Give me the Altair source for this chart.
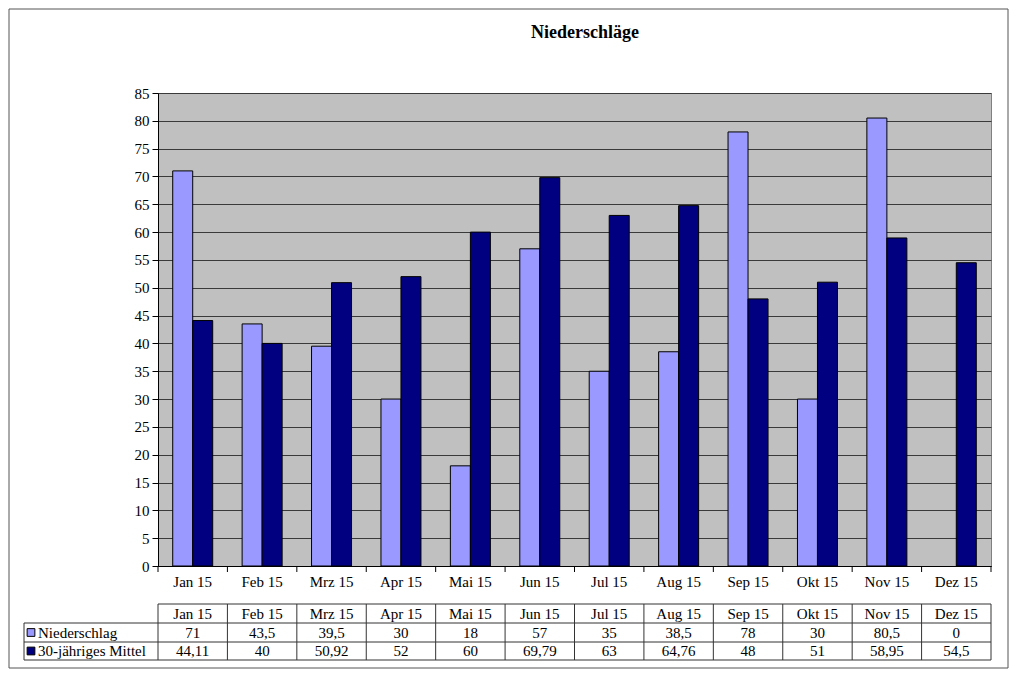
import altair as alt
import pandas as pd

months = ["Jan 15", "Feb 15", "Mrz 15", "Apr 15", "Mai 15", "Jun 15",
          "Jul 15", "Aug 15", "Sep 15", "Okt 15", "Nov 15", "Dez 15"]
niederschlag = [71, 43.5, 39.5, 30, 18, 57, 35, 38.5, 78, 30, 80.5, 0]
mittel = [44.11, 40, 50.92, 52, 60, 69.79, 63, 64.76, 48, 51, 58.95, 54.5]
series = ["Niederschlag", "30-jähriges Mittel"]
colors = ["#9999FF", "#000080"]
y_ticks = list(range(0, 90, 5))
title_text = "Niederschläge"

W, H = 833, 473
FONT = "Liberation Serif"
FS = 15


def fmt(v):
    return f"{v:g}".replace(".", ",")


rows = []
for m, a, b in zip(months, niederschlag, mittel):
    rows.append({"month": m, "series": series[0], "value": a, "label": fmt(a)})
    rows.append({"month": m, "series": series[1], "value": b, "label": fmt(b)})
df = pd.DataFrame(rows)
mdf = pd.DataFrame({"month": months})
one = pd.DataFrame({"t": [title_text]})

xscale = alt.Scale(domain=months, paddingInner=0, paddingOuter=0)
xenc = alt.X("month:N", scale=xscale, sort=months,
             axis=alt.Axis(title=None, ticks=False, labelAngle=0, labelFont=FONT,
                           labelFontSize=FS, labelColor="black", labelPadding=8,
                           domainColor="black"))

# outer border
border = alt.Chart(one).mark_rect(fillOpacity=0, stroke="#555555", strokeWidth=1).encode(
    x=alt.value(-149), x2=alt.value(850), y=alt.value(-84), y2=alt.value(575))

title = alt.Chart(one).mark_text(fontSize=18, fontWeight="bold", font=FONT,
                                 color="black", baseline="middle").encode(
    text="t:N", x=alt.value(427), y=alt.value(-60))

bars = alt.Chart(df).transform_filter("datum.value > 0").mark_bar(
    stroke="black", strokeWidth=1).encode(
    x=xenc,
    xOffset=alt.XOffset("series:N", sort=series,
                        scale=alt.Scale(domain=series, paddingInner=0, paddingOuter=0.735)),
    y=alt.Y("value:Q", scale=alt.Scale(domain=[0, 85], nice=False),
            axis=alt.Axis(values=y_ticks, title=None, grid=True, gridColor="#3a3a3a",
                          tickColor="black", tickSize=6, domainColor="black",
                          labelFont=FONT, labelFontSize=FS, labelColor="black",
                          labelPadding=3)),
    color=alt.Color("series:N", scale=alt.Scale(domain=series, range=colors), legend=None),
)

xticks = alt.Chart(mdf).mark_rule(color="black").encode(
    x=alt.X("month:N", scale=xscale, sort=months, bandPosition=0),
    y=alt.value(H), y2=alt.value(H + 6))
xtick_end = alt.Chart(one).mark_rule(color="black").encode(
    x=alt.value(W), y=alt.value(H), y2=alt.value(H + 6))

T0, T1, T2, T3 = 511, 530, 549, 567
LX = -134
line_c = "#333333"

header = alt.Chart(mdf).mark_text(font=FONT, fontSize=FS, color="black", baseline="middle").encode(
    x=alt.X("month:N", scale=xscale, sort=months), y=alt.value((T0 + T1) / 2), text="month:N")

layers = [border, bars, xticks, xtick_end, title, header]

for i, (s, c) in enumerate(zip(series, colors)):
    yc = (T1 + T2) / 2 if i == 0 else (T2 + T3) / 2
    sub = df[df["series"] == s]
    layers.append(alt.Chart(sub).mark_text(font=FONT, fontSize=FS, color="black",
                                           baseline="middle").encode(
        x=alt.X("month:N", scale=xscale, sort=months), y=alt.value(yc), text="label:N"))
    leg = pd.DataFrame({"series": [s]})
    layers.append(alt.Chart(leg).mark_text(font=FONT, fontSize=FS, color="black",
                                           baseline="middle", align="left").encode(
        x=alt.value(-120), y=alt.value(yc), text="series:N"))
    layers.append(alt.Chart(leg).mark_square(size=60, fill=c, stroke="black",
                                             strokeWidth=1, opacity=1).encode(
        x=alt.value(-127), y=alt.value(yc)))

# table lines
layers.append(alt.Chart(one).mark_rule(color=line_c).encode(
    x=alt.value(0), x2=alt.value(W), y=alt.value(T0)))
for yy in (T1, T2, T3):
    layers.append(alt.Chart(one).mark_rule(color=line_c).encode(
        x=alt.value(LX), x2=alt.value(W), y=alt.value(yy)))
layers.append(alt.Chart(mdf).mark_rule(color=line_c).encode(
    x=alt.X("month:N", scale=xscale, sort=months, bandPosition=0),
    y=alt.value(T0), y2=alt.value(T3)))
layers.append(alt.Chart(one).mark_rule(color=line_c).encode(
    x=alt.value(W), y=alt.value(T0), y2=alt.value(T3)))
layers.append(alt.Chart(one).mark_rule(color=line_c).encode(
    x=alt.value(LX), y=alt.value(T1), y2=alt.value(T3)))

chart = alt.layer(*layers).properties(width=W, height=H, padding=0).configure(
    font=FONT).configure_view(fill="#C0C0C0", stroke="#808080", strokeWidth=1)

chart.save("out.html", embed_options={"renderer": "svg", "actions": False})
